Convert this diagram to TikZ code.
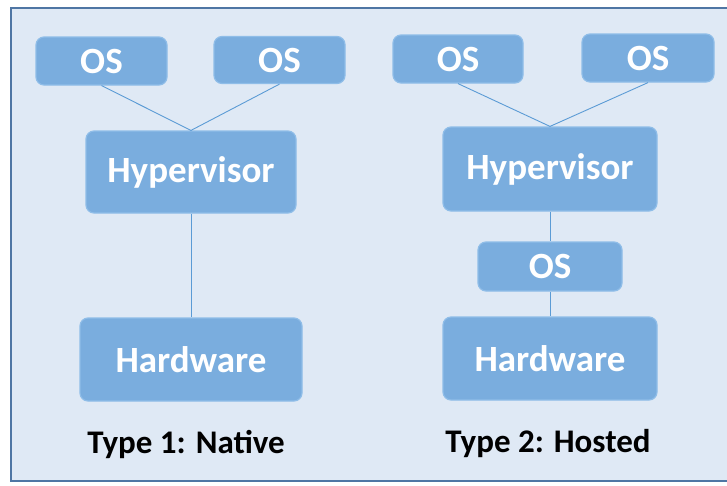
\documentclass[tikz,border=0pt]{standalone}
\usepackage{fontspec}
\setmainfont{Carlito}
\usepackage{tikz}
\usetikzlibrary{calc}
\definecolor{bgblue}{HTML}{DFE9F5}
\definecolor{frameblue}{HTML}{4F76A4}
\definecolor{boxblue}{HTML}{7AADDE}
\definecolor{boxedge}{HTML}{8FBDE8}
\definecolor{wireblue}{HTML}{5B9BD5}

\begin{document}
\begin{tikzpicture}[x=1pt, y=-1pt,
block/.style={rectangle, rounded corners=8pt, draw=boxedge, fill=boxblue, line width=1.2pt,
      text=white, font=\bfseries\fontsize{37}{37}\selectfont, inner sep=0pt},
caption/.style={font=\bfseries\fontsize{33}{33}\selectfont, text=black},
wire/.style={draw=wireblue, line width=0.9pt},]
 \clip (0,0) rectangle (727,485);
 \draw[frameblue, fill=bgblue, line width=2.8pt] (11,8) rectangle (760,481);

 % Type 1
 \node[block, minimum width=131pt, minimum height=48pt] (osa) at (101.5,61) {OS};
 \node[block, minimum width=131pt, minimum height=47pt] (osb) at (279.5,60) {OS};
 \node[block, minimum width=210pt, minimum height=82pt] (hypa) at (191,172) {Hypervisor};
 \node[block, minimum width=222pt, minimum height=83pt] (hwa) at (191,359.5) {Hardware};
 \node[caption] (typea) at (186,444) {Type 1: Native};

 % Type 2
 \node[block, minimum width=130pt, minimum height=48pt] (osc) at (458,59) {OS};
 \node[block, minimum width=132pt, minimum height=48pt] (osd) at (648,58) {OS};
 \node[block, minimum width=214pt, minimum height=84pt] (hypb) at (550,169) {Hypervisor};
 \node[block, minimum width=144pt, minimum height=49pt] (host) at (550,266.5) {OS};
 \node[block, minimum width=214pt, minimum height=83pt] (hwb) at (550,358.5) {Hardware};
 \node[caption] (typeb) at (548,444) {Type 2: Hosted};

 \draw[wire] (osa.south) -- (hypa.north);
 \draw[wire] (osb.south) -- (hypa.north);
 \draw[wire] (hypa.south) -- (hwa.north);
 \draw[wire] (osc.south) -- (hypb.north);
 \draw[wire] (osd.south) -- (hypb.north);
 \draw[wire] (hypb.south) -- (host.north);
 \draw[wire] (host.south) -- (hwb.north);
\end{tikzpicture}
\end{document}
